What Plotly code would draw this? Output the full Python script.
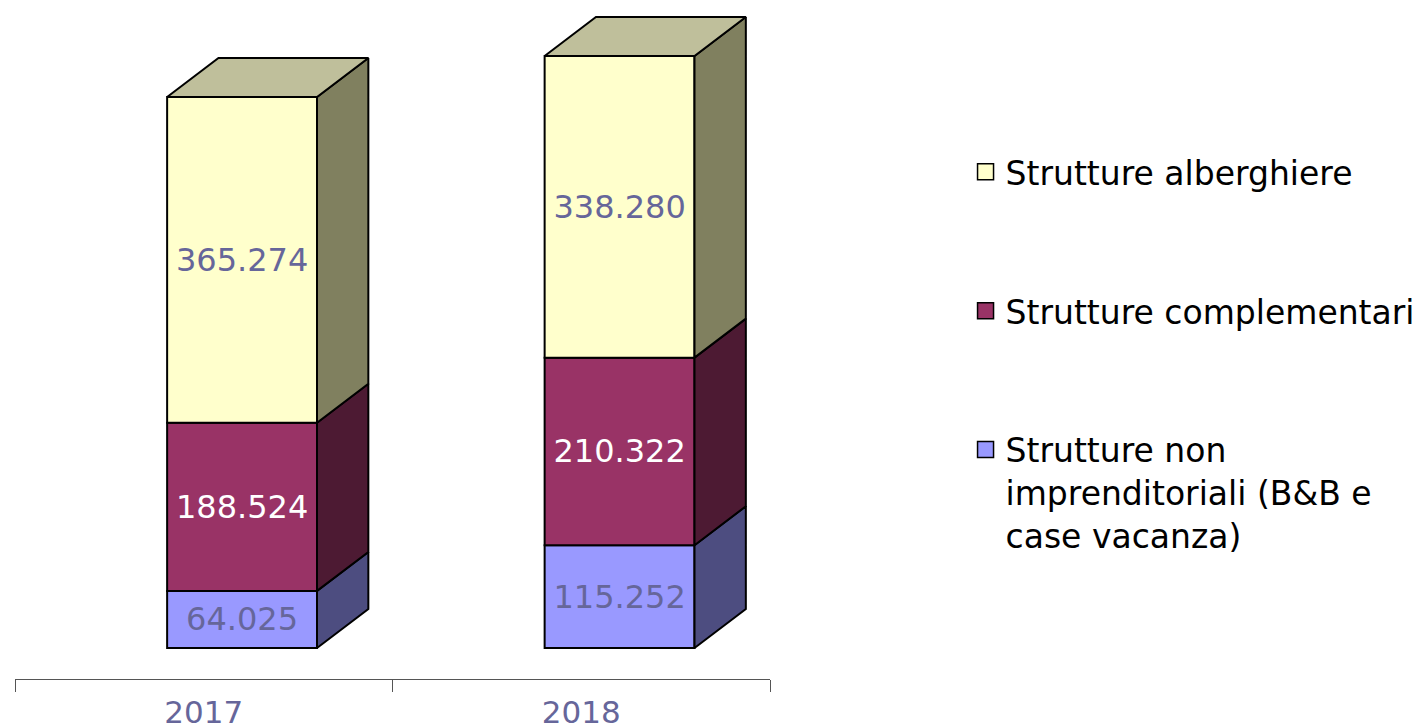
import plotly.graph_objects as go

# ---------------- data ----------------
categories = ["2017", "2018"]
non_imprenditoriali = [64025, 115252]
complementari = [188524, 210322]
alberghiere = [365274, 338280]
series_names = [
    "Strutture non<br>imprenditoriali (B&B e<br>case vacanza)",
    "Strutture complementari",
    "Strutture alberghiere",
]

# ---------------- style ----------------
FONT = "DejaVu Sans"
front_colors = ["#9999FF", "#993366", "#FFFFCC"]
side_colors = ["#4D4D80", "#4D1A33", "#80805F"]
top_color = "#BFBF9B"
text_colors = ["#66669A", "#FFFFFF", "#66669A"]

BAR_OFFSET = -0.097
BAR_WIDTH = 0.397
DEPTH_X = 0.136
DEPTH_Y = 43700
Y_RANGE = [-34760, 715370]


def fmt(v):
    return f"{v:,}".replace(",", ".")


x_pos = list(range(len(categories)))
series = [non_imprenditoriali, complementari, alberghiere]

fig = go.Figure()
base = [0] * len(categories)
for j, vals in enumerate(series):
    fig.add_trace(go.Bar(
        x=x_pos, y=vals, base=base[:], width=BAR_WIDTH, offset=BAR_OFFSET,
        marker=dict(color=front_colors[j], line=dict(color="black", width=2)),
        text=[fmt(v) for v in vals], textposition="inside",
        insidetextanchor="middle", textangle=0,
        textfont=dict(family=FONT, size=32, color=text_colors[j]),
        showlegend=False, hoverinfo="skip",
    ))
    for i, xc in enumerate(x_pos):
        x1 = xc + BAR_OFFSET + BAR_WIDTH
        y0 = base[i]
        y1 = base[i] + vals[i]
        fig.add_trace(go.Scatter(
            x=[x1, x1 + DEPTH_X, x1 + DEPTH_X, x1, x1],
            y=[y0, y0 + DEPTH_Y, y1 + DEPTH_Y, y1, y0],
            fill="toself", fillcolor=side_colors[j], mode="lines",
            line=dict(color="black", width=2),
            showlegend=False, hoverinfo="skip",
        ))
    base = [b + v for b, v in zip(base, vals)]

# top faces
for i, xc in enumerate(x_pos):
    x0 = xc + BAR_OFFSET
    x1 = x0 + BAR_WIDTH
    yt = base[i]
    fig.add_trace(go.Scatter(
        x=[x0, x0 + DEPTH_X, x1 + DEPTH_X, x1, x0],
        y=[yt, yt + DEPTH_Y, yt + DEPTH_Y, yt, yt],
        fill="toself", fillcolor=top_color, mode="lines",
        line=dict(color="black", width=2),
        showlegend=False, hoverinfo="skip",
    ))

# legend entries (top to bottom: alberghiere, complementari, non imprenditoriali)
for j in [2, 1, 0]:
    fig.add_trace(go.Scatter(
        x=[None], y=[None], mode="markers", name=series_names[j],
        legendgroup=f"g{j}",
        marker=dict(symbol="square", size=16, color=front_colors[j],
                    line=dict(color="black", width=1.5)),
    ))

fig.update_layout(
    width=1413, height=728,
    margin=dict(l=7, r=651, t=2, b=57, autoexpand=False),
    paper_bgcolor="white", plot_bgcolor="white",
    barmode="overlay",
    showlegend=True,
    legend=dict(
        x=1.259, xanchor="left", y=0.80, yanchor="top",
        font=dict(family=FONT, size=33, color="black"),
        traceorder="grouped", tracegroupgap=93, valign="top",
        bgcolor="rgba(0,0,0,0)",
    ),
    xaxis=dict(
        range=[-0.5, len(categories) - 0.5],
        tickmode="array", tickvals=x_pos, ticktext=categories,
        ticks="", showgrid=False, zeroline=False, automargin=False,
        showline=True, linecolor="#555555", linewidth=1,
        tickfont=dict(family=FONT, size=31, color="#66669A"),
        ticklabelstandoff=6,
        minor=dict(tickmode="array", tickvals=[p - 0.5 for p in x_pos] + [x_pos[-1] + 0.5],
                   ticks="outside", ticklen=12, tickcolor="#555555", tickwidth=1,
                   showgrid=False),
        fixedrange=True,
    ),
    yaxis=dict(range=Y_RANGE, visible=False, showgrid=False, zeroline=False,
               automargin=False, fixedrange=True),
)

fig.write_html("out.html")
